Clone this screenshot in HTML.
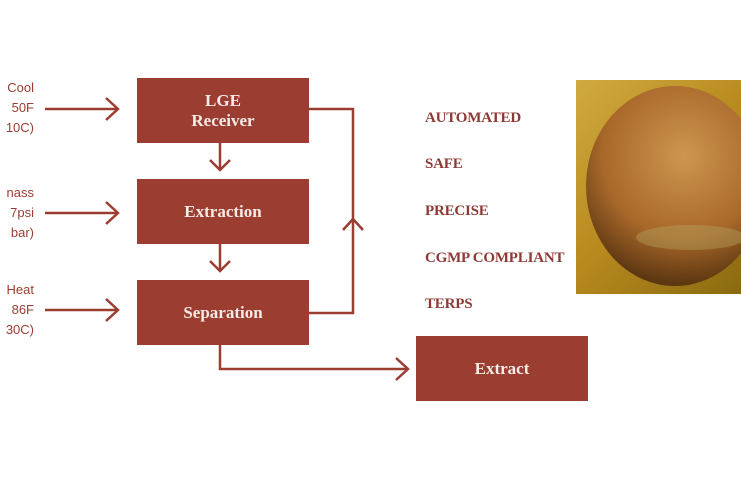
<!DOCTYPE html>
<html><head><meta charset="utf-8"><style>
body{margin:0;width:741px;height:486px;background:#fff;overflow:hidden;position:relative;font-family:"Liberation Serif",serif}
.b{position:absolute;background:#9b3d30;color:#f6ebe6;font-weight:bold;font-size:17px;display:flex;align-items:center;justify-content:center;text-align:center;line-height:20px}
.w{position:absolute;left:425px;color:#8e3a34;font-weight:bold;font-size:15px;letter-spacing:-0.2px}
.l{position:absolute;right:707px;color:#9b3d30;font-family:"Liberation Sans",sans-serif;font-size:13px;line-height:20px;text-align:right;white-space:nowrap}
</style></head><body>
<svg width="741" height="486" style="position:absolute;left:0;top:0">
<g stroke="#9b3d30" stroke-width="2.5" fill="none">
<line x1="45" y1="109" x2="117" y2="109"/><polyline points="106,98 118,109 106,120"/>
<line x1="45" y1="213" x2="117" y2="213"/><polyline points="106,202 118,213 106,224"/>
<line x1="45" y1="310" x2="117" y2="310"/><polyline points="106,299 118,310 106,321"/>
<line x1="220" y1="143" x2="220" y2="169"/><polyline points="210,160 220,170 230,160"/>
<line x1="220" y1="244" x2="220" y2="270"/><polyline points="210,261 220,271 230,261"/>
<polyline points="309,109 353,109 353,313 309,313"/><polyline points="343,230 353,219 363,230"/>
<polyline points="220,345 220,369 407,369"/><polyline points="396,358 408,369 396,380"/>
</g></svg>
<div class="l" style="top:78px">Cool<br>50F<br>10C)</div>
<div class="l" style="top:183px">nass<br>7psi<br>bar)</div>
<div class="l" style="top:280px">Heat<br>86F<br>30C)</div>
<div class="b" style="left:137px;top:78px;width:172px;height:65px">LGE<br>Receiver</div>
<div class="b" style="left:137px;top:179px;width:172px;height:65px">Extraction</div>
<div class="b" style="left:137px;top:280px;width:172px;height:65px">Separation</div>
<div class="b" style="left:416px;top:336px;width:172px;height:65px">Extract</div>
<div class="w" style="top:110px">AUTOMATED</div>
<div class="w" style="top:156px">SAFE</div>
<div class="w" style="top:203px">PRECISE</div>
<div class="w" style="top:250px">CGMP COMPLIANT</div>
<div class="w" style="top:296px">TERPS</div>
<div style="position:absolute;left:576px;top:80px;width:165px;height:214px;background:linear-gradient(135deg,#d0aa40,#b88a1e 50%,#8a6a10);overflow:hidden">
<div style="position:absolute;left:10px;top:6px;width:178px;height:200px;border-radius:50%;background:radial-gradient(circle at 55% 35%,#cf9550,#a8682a 50%,#5a3510 80%,#3a2008 92%,#c8a030 100%)"></div>
<div style="position:absolute;left:60px;top:145px;width:110px;height:25px;background:rgba(180,160,90,.45);border-radius:50%"></div>
</div>
</body></html>
